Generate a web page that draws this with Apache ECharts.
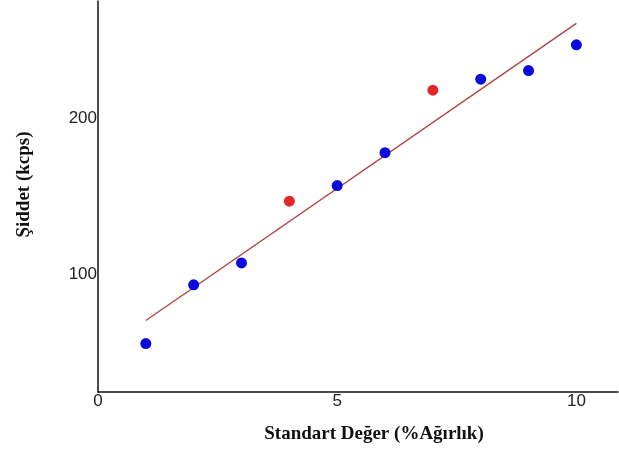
<!DOCTYPE html>
<html>
<head>
<meta charset="utf-8">
<script src="https://cdn.jsdelivr.net/npm/echarts@6/dist/echarts.min.js"></script>
<style>
  html, body { margin: 0; padding: 0; background: #fff; }
  #chart { width: 619px; height: 463px; }
</style>
</head>
<body>
<div id="chart"></div>
<script>
// standard values (%) and intensities (kcps)
const blueX = [1, 2, 3, 5, 6, 8, 9, 10];
const blueY = [56, 93.5, 107.5, 157, 178, 225, 230.5, 247];
const redX = [4, 7];
const redY = [147, 218];
const fitX = [1, 10];
const fitY = [70.7, 260.7];
const yLabels = [100, 200];

function pairs(xs, ys) {
  return xs.map((x, i) => [x, ys[i]]);
}

let myChart = echarts.init(document.getElementById('chart'));
let option = {
  animation: false,
  grid: { left: 98, right: 1, top: 1, bottom: 71 },
  xAxis: {
    type: 'value',
    min: 0,
    max: 10.87,
    interval: 5,
    name: 'Standart Değer (%Ağırlık)',
    nameLocation: 'middle',
    nameGap: 33,
    nameTextStyle: {
      fontFamily: 'Liberation Serif',
      fontWeight: 'bold',
      fontSize: 19,
      color: '#111',
      padding: [0, 0, 0, 32]
    },
    axisLine: { onZero: false, lineStyle: { color: '#111', width: 1.5 } },
    axisTick: { show: false },
    splitLine: { show: false },
    axisLabel: {
      margin: 1,
      fontFamily: 'Liberation Sans',
      fontSize: 17,
      color: '#222',
      showMaxLabel: false
    }
  },
  yAxis: {
    type: 'value',
    min: 25,
    max: 275,
    interval: 25,
    name: 'Şiddet (kcps)',
    nameLocation: 'middle',
    nameGap: 64,
    nameTextStyle: {
      fontFamily: 'Liberation Serif',
      fontWeight: 'bold',
      fontSize: 19,
      color: '#111',
      padding: [0, 0, 0, 24]
    },
    axisLine: { onZero: false, lineStyle: { color: '#111', width: 1.5 } },
    axisTick: { show: false },
    splitLine: { show: false },
    axisLabel: {
      margin: 1,
      fontFamily: 'Liberation Sans',
      fontSize: 17,
      color: '#222',
      formatter(v) {
        return yLabels.includes(v) ? String(v) : '';
      }
    }
  },
  series: [
    {
      type: 'line',
      data: pairs(fitX, fitY),
      symbol: 'none',
      lineStyle: { color: '#b04040', width: 1.3 },
      z: 1
    },
    {
      type: 'scatter',
      data: pairs(blueX, blueY),
      symbolSize: 11,
      itemStyle: { color: '#0a0adc', opacity: 1 },
      z: 3
    },
    {
      type: 'scatter',
      data: pairs(redX, redY),
      symbolSize: 11,
      itemStyle: { color: '#e02828', opacity: 1 },
      z: 3
    }
  ]
};
myChart.setOption(option);
</script>
</body>
</html>
